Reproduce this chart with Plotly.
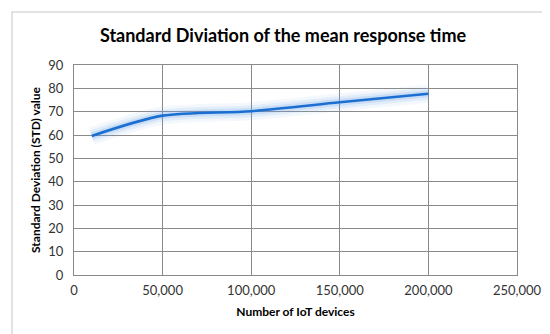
import plotly.graph_objects as go

devices = [10000, 50000, 100000, 150000, 200000]
std_values = [59.6, 68.3, 70.2, 74.0, 77.7]
x_ticks = [0, 50000, 100000, 150000, 200000, 250000]
x_tick_labels = ["0", "50,000", "100,000", "150,000", "200,000", "250,000"]
y_ticks = [0, 10, 20, 30, 40, 50, 60, 70, 80, 90]

FONT = "Lato"
L, R, T, B = 66, 41, 57, 67
W, H = 550, 334
pw, ph = W - L - R, H - T - B

fig = go.Figure()
# glow
for w, a in [(18, 0.08), (12, 0.13), (7, 0.2)]:
    fig.add_trace(go.Scatter(x=devices, y=std_values, mode="lines",
                             line=dict(color=f"rgba(110,160,230,{a})", width=w, shape="spline", smoothing=0.8),
                             hoverinfo="skip", showlegend=False))
fig.add_trace(go.Scatter(x=devices, y=std_values, mode="lines",
                         line=dict(color="#1a6fd1", width=2.6, shape="spline", smoothing=0.8),
                         showlegend=False))

grid = "#8a8a8a"
fig.update_layout(
    width=W, height=H,
    margin=dict(l=L, r=R, t=T, b=B, autoexpand=False),
    paper_bgcolor="white", plot_bgcolor="white",
    title=dict(text="<b>Standard Diviation of the mean response time</b>",
               x=0.5, xanchor="center", y=1 - 28 / H, yanchor="middle",
               font=dict(family=FONT, size=18, color="black")),
    xaxis=dict(range=[0, 250000], tickvals=x_ticks, ticktext=x_tick_labels,
               showgrid=True, gridcolor=grid, gridwidth=1, automargin=False,
               showline=True, linecolor=grid, mirror=True, zeroline=False,
               ticks="", ticklabelstandoff=3,
               tickfont=dict(family=FONT, size=13, color="#333"),
               title=dict(text="<b>Number of IoT devices</b>", standoff=11,
                          font=dict(family=FONT, size=12, color="black"))),
    yaxis=dict(range=[0, 90], tickvals=y_ticks,
               showgrid=True, gridcolor=grid, gridwidth=1, automargin=False,
               showline=True, linecolor=grid, mirror=True, zeroline=False,
               ticks="", ticklabelstandoff=7,
               tickfont=dict(family=FONT, size=13, color="#333"),
               title=dict(text="<b>Standard Deviation (STD) value</b>", standoff=5,
                          font=dict(family=FONT, size=12, color="black"))),
)

fig.add_shape(type="rect", xref="paper", yref="paper",
              x0=(4 - L) / pw, x1=(545 - L) / pw,
              y0=(H - B - 328) / ph, y1=(H - B - 4) / ph,
              line=dict(color="#d9d9d9", width=1.5), fillcolor="rgba(0,0,0,0)", layer="below")

fig.write_html("out.html")
